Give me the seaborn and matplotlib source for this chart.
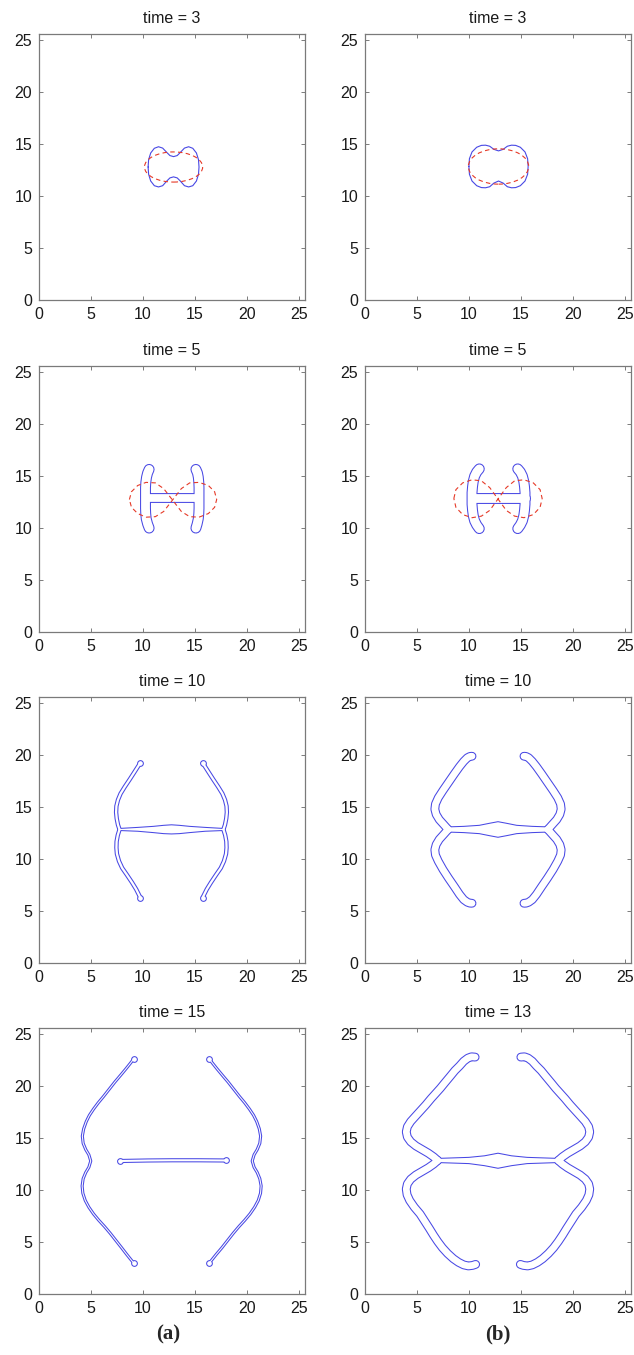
import numpy as np
import matplotlib
matplotlib.use("Agg")
import matplotlib.pyplot as plt
from matplotlib.patches import Ellipse
import seaborn as sns

# 颜色
BLUE = "#4848e4"
RED = "#e63a28"

# ---------------- (a) time = 3 ----------------
a3_x = [10.5, 10.55, 10.75, 11.1, 11.5, 11.9, 12.3, 12.6, 12.95, 13.3, 13.6, 14.0, 14.4, 14.8,
        15.15, 15.35, 15.4, 15.35, 15.15, 14.8, 14.4, 14.0, 13.6, 13.3, 12.95, 12.6, 12.3,
        11.9, 11.5, 11.1, 10.75, 10.55, 10.5]
a3_y = [12.8, 13.5, 14.15, 14.6, 14.75, 14.62, 14.2, 13.9, 13.8, 13.9, 14.2, 14.62, 14.75, 14.6,
        14.15, 13.5, 12.8, 12.1, 11.45, 11.0, 10.88, 11.0, 11.45, 11.75, 11.85, 11.75, 11.45,
        11.0, 10.88, 11.0, 11.45, 12.1, 12.8]
a3_ref = [12.95, 12.8, 5.6, 2.9]   # 参考椭圆: 中心x, 中心y, 宽, 高

# ---------------- (b) time = 3 ----------------
b3_x = [10.0, 10.05, 10.3, 10.75, 11.2, 11.6, 12.0, 12.4, 12.85, 13.3, 13.7, 14.1, 14.5, 14.95,
        15.4, 15.65, 15.7, 15.65, 15.4, 14.95, 14.5, 14.1, 13.7, 13.3, 12.85, 12.4, 12.0,
        11.6, 11.2, 10.75, 10.3, 10.05, 10.0]
b3_y = [12.85, 13.6, 14.25, 14.7, 14.88, 14.9, 14.8, 14.5, 14.35, 14.5, 14.8, 14.9, 14.88, 14.7,
        14.25, 13.6, 12.85, 12.1, 11.45, 11.0, 10.82, 10.8, 10.9, 11.25, 11.45, 11.25, 10.9,
        10.8, 10.82, 11.0, 11.45, 12.1, 12.85]
b3_ref = [12.85, 12.85, 5.8, 3.4]

# ---------------- (a) time = 5 ----------------
a5_bar_y = [15.65, 15.3, 14.9, 14.4, 13.9, 13.4, 12.9, 12.4, 11.9, 11.4, 10.9, 10.4, 10.0]
a5_left_x = [10.6, 10.45, 10.35, 10.28, 10.25, 10.25, 10.25, 10.25, 10.25, 10.27, 10.32, 10.45, 10.6]
a5_right_x = [15.1, 15.25, 15.33, 15.38, 15.4, 15.4, 15.4, 15.4, 15.4, 15.38, 15.33, 15.22, 15.1]
a5_mid_x = [10.27, 15.4]
a5_mid_y = [12.9, 12.9]
a5_ref_x = [8.7, 8.9, 9.5, 10.3, 11.2, 12.0, 12.85, 13.7, 14.5, 15.4, 16.3, 16.9, 17.1,
            16.9, 16.3, 15.4, 14.5, 13.7, 12.85, 12.0, 11.2, 10.3, 9.5, 8.9, 8.7]
a5_ref_y = [12.75, 13.5, 14.1, 14.4, 14.35, 13.8, 12.7, 11.6, 11.1, 11.05, 11.4, 12.0, 12.75,
            13.5, 14.1, 14.4, 14.35, 13.8, 12.7, 11.6, 11.1, 11.05, 11.4, 12.0, 12.75]

# ---------------- (b) time = 5 ----------------
b5_bar_y = [15.7, 15.4, 15.0, 14.5, 14.0, 13.4, 12.85, 12.3, 11.7, 11.2, 10.7, 10.3, 9.95]
b5_left_x = [11.0, 10.75, 10.55, 10.42, 10.35, 10.3, 10.3, 10.3, 10.35, 10.42, 10.55, 10.75, 11.0]
b5_right_x = [14.7, 14.95, 15.15, 15.28, 15.35, 15.4, 15.4, 15.4, 15.35, 15.28, 15.15, 14.95, 14.7]
b5_mid_x = [10.3, 15.4]
b5_mid_y = [12.85, 12.85]
b5_ref_x = [8.55, 8.75, 9.4, 10.3, 11.2, 12.0, 12.8, 13.6, 14.4, 15.3, 16.2, 16.85, 17.05,
            16.85, 16.2, 15.3, 14.4, 13.6, 12.8, 12.0, 11.2, 10.3, 9.4, 8.75, 8.55]
b5_ref_y = [12.85, 13.7, 14.35, 14.65, 14.55, 13.9, 12.8, 11.7, 11.15, 11.0, 11.3, 12.0, 12.85,
            13.7, 14.35, 14.65, 14.55, 13.9, 12.8, 11.7, 11.15, 11.0, 11.3, 12.0, 12.85]

# ---------------- (a) time = 10 ----------------
a10_up_y = [12.85, 13.3, 13.9, 14.5, 15.1, 15.7, 16.3, 16.95, 17.7, 18.4, 18.95, 19.25]
a10_lo_y = [12.85, 12.3, 11.7, 11.1, 10.5, 9.8, 9.15, 8.5, 7.75, 7.1, 6.6, 6.3]
a10_lu_x = [7.75, 7.6, 7.48, 7.42, 7.45, 7.6, 7.85, 8.25, 8.75, 9.2, 9.55, 9.75]
a10_ll_x = [7.75, 7.58, 7.47, 7.45, 7.5, 7.7, 8.0, 8.45, 8.95, 9.35, 9.6, 9.75]
a10_ru_x = [17.75, 17.9, 18.02, 18.08, 18.05, 17.9, 17.65, 17.25, 16.75, 16.3, 15.95, 15.75]
a10_rl_x = [17.75, 17.92, 18.03, 18.05, 18.0, 17.8, 17.5, 17.05, 16.55, 16.15, 15.9, 15.75]
a10_lens_x = [7.75, 9.5, 11.0, 12.0, 12.75, 13.5, 14.5, 16.0, 17.75]
a10_lens_top = [12.95, 13.05, 13.15, 13.25, 13.3, 13.25, 13.15, 13.05, 12.95]
a10_lens_bot = [12.75, 12.68, 12.55, 12.45, 12.42, 12.45, 12.55, 12.68, 12.75]

# ---------------- (b) time = 10 ----------------
b10_up_y = [12.85, 13.3, 13.8, 14.3, 14.8, 15.3, 15.9, 16.6, 17.4, 18.2, 18.9, 19.4, 19.75, 19.88, 19.9]
b10_lo_y = [12.85, 12.4, 11.9, 11.4, 10.9, 10.4, 9.8, 9.0, 8.15, 7.35, 6.6, 6.1, 5.85, 5.76, 5.75]
b10_l_x = [8.0, 7.6, 7.15, 6.85, 6.72, 6.78, 7.05, 7.5, 8.05, 8.6, 9.1, 9.5, 9.85, 10.1, 10.3]
b10_r_x = [17.6, 18.0, 18.45, 18.75, 18.88, 18.82, 18.55, 18.1, 17.55, 17.0, 16.5, 16.1, 15.75, 15.5, 15.3]
b10_lens_x = [8.0, 9.5, 11.0, 12.0, 12.8, 13.6, 14.6, 16.1, 17.6]
b10_lens_top = [13.1, 13.15, 13.25, 13.45, 13.6, 13.45, 13.25, 13.15, 13.1]
b10_lens_bot = [12.6, 12.55, 12.45, 12.25, 12.1, 12.25, 12.45, 12.55, 12.6]

# ---------------- (a) time = 15 ----------------
a15_arm_y = [22.6, 22.15, 21.65, 21.05, 20.4, 19.7, 19.0, 18.4, 17.8, 17.2, 16.6, 15.9, 15.2,
             14.5, 13.9, 13.4, 12.8, 12.2, 11.7, 11.1, 10.4, 9.7, 9.0, 8.35, 7.7, 7.1, 6.5,
             5.85, 5.15, 4.45, 3.8, 3.3, 3.0]
a15_l_x = [9.1, 8.75, 8.35, 7.85, 7.3, 6.75, 6.2, 5.7, 5.25, 4.85, 4.55, 4.3, 4.17, 4.25, 4.5,
           4.8, 4.98, 4.8, 4.5, 4.25, 4.15, 4.22, 4.45, 4.8, 5.25, 5.75, 6.3, 6.85, 7.4, 7.95,
           8.45, 8.85, 9.1]
a15_r_x = [16.4, 16.75, 17.15, 17.65, 18.2, 18.75, 19.3, 19.8, 20.25, 20.65, 20.95, 21.2, 21.33,
           21.25, 21.0, 20.7, 20.52, 20.7, 21.0, 21.25, 21.38, 21.32, 21.1, 20.75, 20.3, 19.8,
           19.25, 18.7, 18.15, 17.6, 17.05, 16.65, 16.4]
a15_mid_x = [7.75, 10.5, 12.8, 15.3, 17.95]
a15_mid_y = [12.8, 12.85, 12.87, 12.87, 12.85]

# ---------------- (b) time = 13 ----------------
b13_up_y = [12.85, 13.2, 13.55, 13.9, 14.25, 14.65, 15.1, 15.6, 16.1, 16.6, 17.1, 17.65, 18.2,
            18.8, 19.3, 19.8, 20.35, 20.95, 21.5, 21.95, 22.4, 22.7, 22.83, 22.8]
b13_lo_y = [12.85, 12.5, 12.15, 11.8, 11.45, 11.05, 10.6, 10.1, 9.55, 9.0, 8.35, 7.7, 7.0,
            6.3, 5.65, 5.05, 4.45, 3.9, 3.4, 3.05, 2.8, 2.7, 2.75, 2.85]
b13_lu_x = [7.0, 6.6, 6.1, 5.5, 4.9, 4.4, 4.08, 3.97, 4.08, 4.4, 4.85, 5.35, 5.85, 6.35, 6.8,
            7.25, 7.7, 8.2, 8.65, 9.1, 9.5, 9.9, 10.25, 10.6]
b13_ll_x = [7.0, 6.6, 6.1, 5.5, 4.9, 4.4, 4.08, 3.97, 4.05, 4.3, 4.75, 5.3, 5.75, 6.2, 6.6,
            7.0, 7.45, 7.95, 8.5, 9.0, 9.5, 9.95, 10.35, 10.65]
b13_ru_x = [18.6, 19.0, 19.5, 20.1, 20.7, 21.2, 21.52, 21.63, 21.52, 21.2, 20.75, 20.25, 19.75,
            19.25, 18.8, 18.35, 17.9, 17.4, 16.95, 16.5, 16.1, 15.7, 15.35, 15.0]
b13_rl_x = [18.6, 19.0, 19.5, 20.1, 20.7, 21.2, 21.52, 21.63, 21.55, 21.3, 20.85, 20.3, 19.85,
            19.4, 19.0, 18.6, 18.15, 17.65, 17.1, 16.6, 16.1, 15.65, 15.25, 14.95]
b13_lens_x = [7.0, 8.5, 10.0, 11.5, 12.8, 14.1, 15.6, 17.1, 18.6]
b13_lens_top = [13.05, 13.1, 13.15, 13.3, 13.55, 13.3, 13.15, 13.1, 13.05]
b13_lens_bot = [12.65, 12.6, 12.55, 12.35, 12.1, 12.35, 12.55, 12.6, 12.65]

titles = ["time = 3", "time = 3", "time = 5", "time = 5",
          "time = 10", "time = 10", "time = 15", "time = 13"]
LIM = 25.6

# ---------------- 画图 ----------------
sns.set_style("ticks")
plt.rcParams["font.family"] = ["Liberation Sans", "DejaVu Sans"]

W, H = 634, 1355
fig = plt.figure(figsize=(W / 100, H / 100), dpi=100)

col_left = [39, 365]
row_bottom = [300, 632, 963, 1294]
side = 266

axes = []
for r in range(4):
    for c in range(2):
        ax = fig.add_axes([col_left[c] / W, (H - row_bottom[r]) / H, side / W, side / H])
        axes.append(ax)


def unit_pt(ax):
    # 数据单位 -> 线宽(pt)
    return fig.get_figwidth() * ax.get_position().width * 72 / LIM


def outline(ax, xs, ys):
    sns.lineplot(x=xs, y=ys, sort=False, estimator=None, color=BLUE,
                 linewidth=0.8, ax=ax, zorder=3)


def dashed(ax, xs, ys):
    sns.lineplot(x=xs, y=ys, sort=False, estimator=None, color=RED,
                 linewidth=0.8, linestyle=(0, (4, 3)), ax=ax, zorder=10)


def tubes(ax, paths, lens=None, bulbs=None, bulb_d=0.6):
    # 细带: 先画粗蓝线, 再盖白线, 得到双线轮廓
    k = unit_pt(ax)
    edge = 0.75
    for xs, ys, w in paths:
        sns.lineplot(x=xs, y=ys, sort=False, estimator=None, color=BLUE,
                     linewidth=w * k, solid_capstyle="round", solid_joinstyle="round",
                     ax=ax, zorder=2)
    if lens is not None:
        lx, lt, lb = lens
        ax.fill(list(lx) + list(lx)[::-1], list(lt) + list(lb)[::-1],
                facecolor="white", edgecolor=BLUE, linewidth=edge, zorder=3)
    if bulbs is not None:
        sns.scatterplot(x=bulbs[0], y=bulbs[1], s=(bulb_d * k) ** 2, color="white",
                        edgecolor=BLUE, linewidth=edge, ax=ax, zorder=3)
    for xs, ys, w in paths:
        sns.lineplot(x=xs, y=ys, sort=False, estimator=None, color="white",
                     linewidth=max(w * k - 2 * edge, 0.4), solid_capstyle="round",
                     solid_joinstyle="round", ax=ax, zorder=4)


def ref_ellipse(ax, e):
    ax.add_patch(Ellipse((e[0], e[1]), e[2], e[3], fill=False, edgecolor=RED,
                         linewidth=0.8, linestyle=(0, (4, 3)), zorder=10))


for ax in axes:
    ax.set_xlim(0, LIM)
    ax.set_ylim(0, LIM)

# time = 3
outline(axes[0], a3_x, a3_y)
ref_ellipse(axes[0], a3_ref)
outline(axes[1], b3_x, b3_y)
ref_ellipse(axes[1], b3_ref)

# time = 5
tubes(axes[2], [(a5_left_x, a5_bar_y, 1.05), (a5_right_x, a5_bar_y, 1.05),
                (a5_mid_x, a5_mid_y, 0.95)])
dashed(axes[2], a5_ref_x, a5_ref_y)
tubes(axes[3], [(b5_left_x, b5_bar_y, 1.05), (b5_right_x, b5_bar_y, 1.05),
                (b5_mid_x, b5_mid_y, 1.05)])
dashed(axes[3], b5_ref_x, b5_ref_y)

# time = 10
tubes(axes[4], [(a10_lu_x, a10_up_y, 0.42), (a10_ll_x, a10_lo_y, 0.42),
                (a10_ru_x, a10_up_y, 0.42), (a10_rl_x, a10_lo_y, 0.42)],
      lens=(a10_lens_x, a10_lens_top, a10_lens_bot),
      bulbs=([a10_lu_x[-1], a10_ll_x[-1], a10_ru_x[-1], a10_rl_x[-1]],
             [a10_up_y[-1], a10_lo_y[-1], a10_up_y[-1], a10_lo_y[-1]]), bulb_d=0.55)
tubes(axes[5], [(b10_l_x, b10_up_y, 0.85), (b10_l_x, b10_lo_y, 0.85),
                (b10_r_x, b10_up_y, 0.85), (b10_r_x, b10_lo_y, 0.85)],
      lens=(b10_lens_x, b10_lens_top, b10_lens_bot))

# time = 15 / 13
tubes(axes[6], [(a15_l_x, a15_arm_y, 0.3), (a15_r_x, a15_arm_y, 0.3),
                (a15_mid_x, a15_mid_y, 0.4)],
      bulbs=([a15_l_x[0], a15_l_x[-1], a15_r_x[0], a15_r_x[-1], a15_mid_x[0], a15_mid_x[-1]],
             [a15_arm_y[0], a15_arm_y[-1], a15_arm_y[0], a15_arm_y[-1], a15_mid_y[0], a15_mid_y[-1]]),
      bulb_d=0.55)
tubes(axes[7], [(b13_lu_x, b13_up_y, 0.85), (b13_ll_x, b13_lo_y, 0.85),
                (b13_ru_x, b13_up_y, 0.85), (b13_rl_x, b13_lo_y, 0.85)],
      lens=(b13_lens_x, b13_lens_top, b13_lens_bot))

for ax, t in zip(axes, titles):
    ax.set_xlim(0, LIM)
    ax.set_ylim(0, LIM)
    ax.set_xticks(range(0, 26, 5))
    ax.set_yticks(range(0, 26, 5))
    ax.set_xlabel("")
    ax.set_ylabel("")
    ax.tick_params(direction="in", top=True, right=True, length=3, width=0.6,
                   color="#666666", labelsize=11.5, pad=5, labelcolor="#1a1a1a")
    for s in ax.spines.values():
        s.set_color("#7a7a7a")
        s.set_linewidth(0.9)
    ax.set_title(t, fontsize=11.5, pad=8, color="#1a1a1a")

fig.text(168 / W, 1 - 1334 / H, "(a)", ha="center", va="center",
         family=["Liberation Serif", "DejaVu Serif"], fontweight="bold", fontsize=15)
fig.text(498 / W, 1 - 1334 / H, "(b)", ha="center", va="center",
         family=["Liberation Serif", "DejaVu Serif"], fontweight="bold", fontsize=15)

fig.savefig("out.png", dpi=100)
